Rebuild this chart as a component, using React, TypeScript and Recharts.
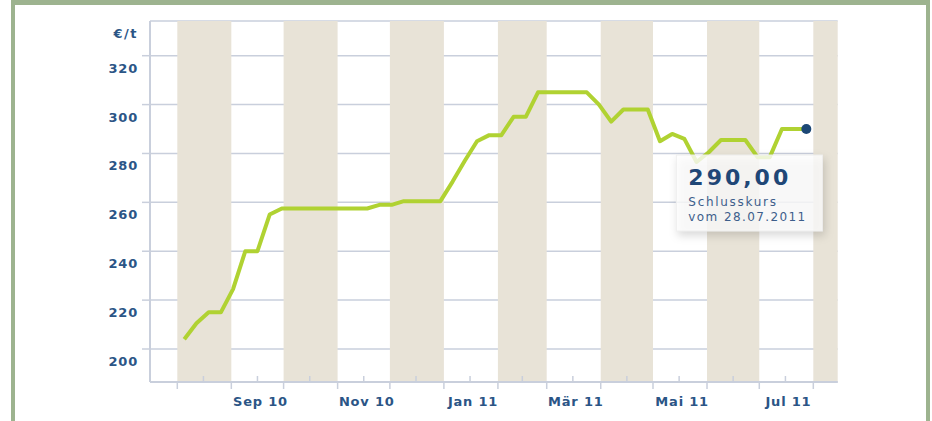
import React from "react";
import {
  LineChart,
  Line,
  XAxis,
  YAxis,
  CartesianGrid,
  ReferenceArea
} from "recharts";

// weekly closing prices (Thursdays)
const weekDates = [
  "2010-08-05", "2010-08-12", "2010-08-19", "2010-08-26",
  "2010-09-02", "2010-09-09", "2010-09-16", "2010-09-23", "2010-09-30",
  "2010-10-07", "2010-10-14", "2010-10-21", "2010-10-28",
  "2010-11-04", "2010-11-11", "2010-11-18", "2010-11-25",
  "2010-12-02", "2010-12-09", "2010-12-16", "2010-12-23", "2010-12-30",
  "2011-01-06", "2011-01-13", "2011-01-20", "2011-01-27",
  "2011-02-03", "2011-02-10", "2011-02-17", "2011-02-24",
  "2011-03-03", "2011-03-10", "2011-03-17", "2011-03-24", "2011-03-31",
  "2011-04-07", "2011-04-14", "2011-04-21", "2011-04-28",
  "2011-05-05", "2011-05-12", "2011-05-19", "2011-05-26",
  "2011-06-02", "2011-06-09", "2011-06-16", "2011-06-23", "2011-06-30",
  "2011-07-07", "2011-07-14", "2011-07-21", "2011-07-28"
];

const closePrices = [
  204, 210.5, 215, 215,
  224.5, 240, 240, 255, 257.5,
  257.5, 257.5, 257.5, 257.5,
  257.5, 257.5, 257.5, 259,
  259, 260.5, 260.5, 260.5, 260.5,
  268.5, 277, 285, 287.5,
  287.5, 295, 295, 305,
  305, 305, 305, 305, 300,
  293, 298, 298, 298,
  285, 288, 286, 276.5,
  280.5, 285.5, 285.5, 285.5, 278.5,
  278.5, 290, 290, 290
];

const yTicks = [200, 220, 240, 260, 280, 300, 320];

const monthStarts = [
  "2010-08-01", "2010-09-01", "2010-10-01", "2010-11-01", "2010-12-01",
  "2011-01-01", "2011-02-01", "2011-03-01", "2011-04-01", "2011-05-01",
  "2011-06-01", "2011-07-01", "2011-08-01"
];

const midMonths = [
  "2010-08-16", "2010-09-16", "2010-10-16", "2010-11-16", "2010-12-16",
  "2011-01-16", "2011-02-15", "2011-03-16", "2011-04-16", "2011-05-16",
  "2011-06-16", "2011-07-16"
];

const monthLabels: Record<string, string> = {
  "2010-09-16": "Sep 10",
  "2010-11-16": "Nov 10",
  "2011-01-16": "Jan 11",
  "2011-03-16": "Mär 11",
  "2011-05-16": "Mai 11",
  "2011-07-16": "Jul 11"
};

const lastDateLabel = "vom 28.07.2011";

const DAY = 86400000;
const xMin = Date.parse("2010-08-01") - 15.67 * DAY;
const xMax = Date.parse("2011-08-01") + 14 * DAY;

const chartData = weekDates.map((d, i) => ({ t: Date.parse(d), price: closePrices[i] }));
const lastIndex = chartData.length - 1;

const midTimes = midMonths.map((d) => Date.parse(d));
const labelByTime: Record<number, string> = {};
Object.keys(monthLabels).forEach((d) => {
  labelByTime[Date.parse(d)] = monthLabels[d];
});
const xTicks = [...monthStarts.map((d) => Date.parse(d)), ...midTimes].sort((a, b) => a - b);

const shaded = monthStarts
  .map((d, i) => (i % 2 === 0 ? [Date.parse(d), monthStarts[i + 1] ? Date.parse(monthStarts[i + 1]) : xMax] : null))
  .filter((p) => p !== null) as number[][];

const FONT = "'DejaVu Sans', Verdana, sans-serif";
const AXIS_BLUE = "#2b5586";
const GRID = "#c9cfdc";
const LINE_GREEN = "#b0d232";
const DOT_BLUE = "#1c4775";

const YTick = (props: any) => {
  const { x, y, payload } = props;
  return (
    <text
      x={x + 1}
      y={y + 17}
      textAnchor="end"
      fill={AXIS_BLUE}
      fontFamily={FONT}
      fontWeight="bold"
      fontSize={13}
      letterSpacing={0.8}
    >
      {payload.value}
    </text>
  );
};

const XTick = (props: any) => {
  const { x, y, payload } = props;
  const v = payload.value;
  const isMid = midTimes.includes(v);
  const label = labelByTime[v];
  return (
    <g>
      {isMid ? (
        <line x1={x} x2={x} y1={y} y2={y - 6} stroke={GRID} strokeWidth={1.5} />
      ) : (
        <line x1={x} x2={x} y1={y} y2={y + 7} stroke={GRID} strokeWidth={1.5} />
      )}
      {label && (
        <text
          x={x + 3}
          y={y + 24}
          textAnchor="middle"
          fill={AXIS_BLUE}
          fontFamily={FONT}
          fontWeight="bold"
          fontSize={13}
          letterSpacing={0.8}
        >
          {label}
        </text>
      )}
    </g>
  );
};

const UnitLabel = (props: any) => {
  const vb = props.viewBox || {};
  return (
    <text
      x={vb.x + vb.width - 12}
      y={vb.y + 17}
      textAnchor="end"
      fill={AXIS_BLUE}
      fontFamily={FONT}
      fontWeight="bold"
      fontSize={13}
      letterSpacing={1.5}
    >
      €/t
    </text>
  );
};

const LastDot = (props: any) => {
  const { cx, cy, index } = props;
  if (index !== lastIndex) return <g key={`d-${index}`} />;
  return <circle key={`d-${index}`} cx={cx} cy={cy} r={5} fill={DOT_BLUE} />;
};

const CloseBox = (props: any) => {
  const { x, y, index, value } = props;
  if (index !== lastIndex) return null;
  const shown = Number(value).toFixed(2).replace(".", ",");
  return (
    <g>
      <rect
        x={x - 130}
        y={y + 26}
        width={146}
        height={76}
        fill="#ffffff"
        fillOpacity={0.8}
        stroke="#efefef"
        style={{ filter: "drop-shadow(2px 4px 4px rgba(0,0,0,0.18))" }}
      />
      <text x={x - 118} y={y + 56} fill="#1f4777" fontFamily={FONT} fontWeight="bold" fontSize={22} letterSpacing={3}>
        {shown}
      </text>
      <text x={x - 118} y={y + 77} fill="#3d5e8b" fontFamily={FONT} fontSize={12} letterSpacing={1.7}>
        Schlusskurs
      </text>
      <text x={x - 118} y={y + 92} fill="#3d5e8b" fontFamily={FONT} fontSize={12} letterSpacing={1.4}>
        {lastDateLabel}
      </text>
    </g>
  );
};

export default function App() {
  return (
    <div style={{ position: "absolute", left: 0, top: 0, width: 932, height: 421, overflow: "hidden", background: "#ffffff" }}>
      <div
        style={{
          position: "absolute",
          left: 11,
          top: 0,
          width: 919,
          height: 460,
          boxSizing: "border-box",
          borderTop: "5px solid #9db38f",
          borderLeft: "4px solid #9db38f",
          borderRight: "4px solid #9db38f"
        }}
      />
      <div style={{ position: "absolute", left: 0, top: 0 }}>
        <LineChart
          width={932}
          height={421}
          data={chartData}
          margin={{ top: 21, right: 94.3, bottom: 0, left: 90 }}
        >
          {shaded.map((p, i) => (
            <ReferenceArea
              key={`band-${i}`}
              x1={p[0]}
              x2={p[1]}
              fill="#e8e3d7"
              fillOpacity={1}
              stroke="none"
            />
          ))}
          <CartesianGrid vertical={false} stroke={GRID} strokeWidth={1.5} />
          <XAxis
            dataKey="t"
            type="number"
            domain={[xMin, xMax]}
            ticks={xTicks}
            interval={0}
            height={39}
            tickSize={0}
            tickMargin={0}
            tickLine={false}
            axisLine={{ stroke: GRID, strokeWidth: 2 }}
            tick={<XTick />}
            allowDataOverflow
          />
          <YAxis
            type="number"
            domain={[186.5, 334.2]}
            ticks={yTicks}
            interval={0}
            width={60}
            tickSize={8}
            tickMargin={5}
            tickLine={{ stroke: GRID, strokeWidth: 1.5 }}
            axisLine={{ stroke: GRID, strokeWidth: 2 }}
            tick={<YTick />}
            label={<UnitLabel />}
            allowDataOverflow
          />
          <Line
            type="linear"
            dataKey="price"
            stroke={LINE_GREEN}
            strokeWidth={4}
            strokeLinejoin="round"
            dot={LastDot}
            activeDot={false}
            label={CloseBox}
            isAnimationActive={false}
          />
        </LineChart>
      </div>
    </div>
  );
}
